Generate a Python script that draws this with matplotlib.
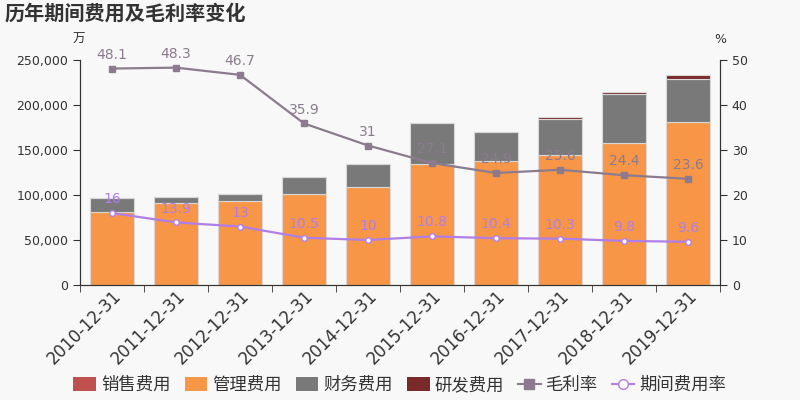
import matplotlib.pyplot as plt
import matplotlib.transforms as mtransforms
import numpy as np
from matplotlib.patches import Patch
from matplotlib.lines import Line2D
from matplotlib.ticker import FuncFormatter

plt.rcParams['font.family'] = ['DejaVu Sans', 'Noto Sans CJK SC']

dates = ['2010-12-31', '2011-12-31', '2012-12-31', '2013-12-31', '2014-12-31',
         '2015-12-31', '2016-12-31', '2017-12-31', '2018-12-31', '2019-12-31']
sales = [0, 0, 0, 0, 0, 0, 0, 0, 0, 0]
admin = [81000, 90700, 93700, 100700, 109300, 134800, 137800, 144800, 157800, 180800]
finance = [15500, 6700, 7800, 19700, 25500, 44800, 32200, 39600, 54400, 48100]
research = [0, 0, 0, 0, 0, 0, 0, 2300, 2600, 4400]
gross_margin = [48.1, 48.3, 46.7, 35.9, 31, 27.1, 24.9, 25.6, 24.4, 23.6]
expense_rate = [16, 13.9, 13, 10.5, 10, 10.8, 10.4, 10.3, 9.8, 9.6]

c_sales = '#c0504d'
c_admin = '#f79646'
c_fin = '#797979'
c_rd = '#7b2a2a'
c_gm = '#8c7b8f'
c_er = '#b07ee8'
bg = '#f8f8f8'
txt = '#333333'

fig = plt.figure(figsize=(8, 4), dpi=100, facecolor=bg)
ax = fig.add_axes([0.1, 0.2875, 0.8, 0.5625], facecolor=bg)
ax2 = ax.twinx()

x = np.arange(len(dates))
w = 0.7
ec = '#d8d8d8'
b = np.zeros(len(x))
for vals, c in [(sales, c_sales), (admin, c_admin), (finance, c_fin), (research, c_rd)]:
    ax.bar(x, vals, w, bottom=b, color=c, edgecolor=ec, linewidth=0.8, zorder=2)
    b = b + np.array(vals)

ax.set_xlim(-0.5, len(x) - 0.5)
ax.set_ylim(0, 250000)
ax.set_yticks(range(0, 250001, 50000))
ax.yaxis.set_major_formatter(FuncFormatter(lambda v, p: f'{int(v):,}'))
ax.set_xticks(x)
ax.set_xticks(np.arange(-0.5, len(x)), minor=True)
ax.set_xticklabels(dates, rotation=45, ha='right', rotation_mode='anchor', fontsize=12, color=txt)
shift = mtransforms.ScaledTranslation(5 / 72, 0, fig.dpi_scale_trans)
for lab in ax.get_xticklabels():
    lab.set_transform(lab.get_transform() + shift)
ax.tick_params(axis='x', which='major', length=0, pad=1)
ax.tick_params(axis='x', which='minor', length=5, color=txt)
ax.tick_params(axis='y', labelsize=9, colors=txt, length=5)

ax2.set_ylim(0, 50)
ax2.set_yticks(range(0, 51, 10))
ax2.tick_params(axis='y', labelsize=9, colors=txt, length=5)

for a in (ax, ax2):
    a.spines['top'].set_visible(False)
    for s in ('left', 'right', 'bottom'):
        a.spines[s].set_color(txt)

ax2.plot(x, gross_margin, color=c_gm, lw=1.6, marker='s', ms=4, zorder=3)
ax2.plot(x, expense_rate, color=c_er, lw=1.6, marker='o', ms=4,
         markerfacecolor='white', markeredgecolor=c_er, zorder=3)
for xi, v in zip(x, gross_margin):
    ax2.annotate(f'{v:g}', (xi, v), xytext=(0, 5), textcoords='offset points',
                 ha='center', va='bottom', color=c_gm, fontsize=10)
for xi, v in zip(x, expense_rate):
    ax2.annotate(f'{v:g}', (xi, v), xytext=(0, 5), textcoords='offset points',
                 ha='center', va='bottom', color=c_er, fontsize=10)

fig.text(0.006, 0.965, '历年期间费用及毛利率变化', fontsize=14.5, fontweight='bold',
         color='#333333', va='center', ha='left')
fig.text(0.098, 0.902, '万', fontsize=9, color=txt, ha='center', va='center')
fig.text(0.9, 0.902, '%', fontsize=9, color=txt, ha='center', va='center')

handles = [Patch(facecolor=c_sales), Patch(facecolor=c_admin), Patch(facecolor=c_fin),
           Patch(facecolor=c_rd),
           Line2D([], [], color=c_gm, marker='s', ms=7),
           Line2D([], [], color=c_er, marker='o', ms=7, markerfacecolor='white')]
labels = ['销售费用', '管理费用', '财务费用', '研发费用', '毛利率', '期间费用率']
fig.legend(handles, labels, loc='center', bbox_to_anchor=(0.5, 0.037), ncol=6,
           frameon=False, fontsize=12.5, handlelength=1.3, handleheight=0.9,
           handletextpad=0.3, columnspacing=0.8, labelcolor=txt)

fig.savefig('out.png', dpi=100, facecolor=bg)
